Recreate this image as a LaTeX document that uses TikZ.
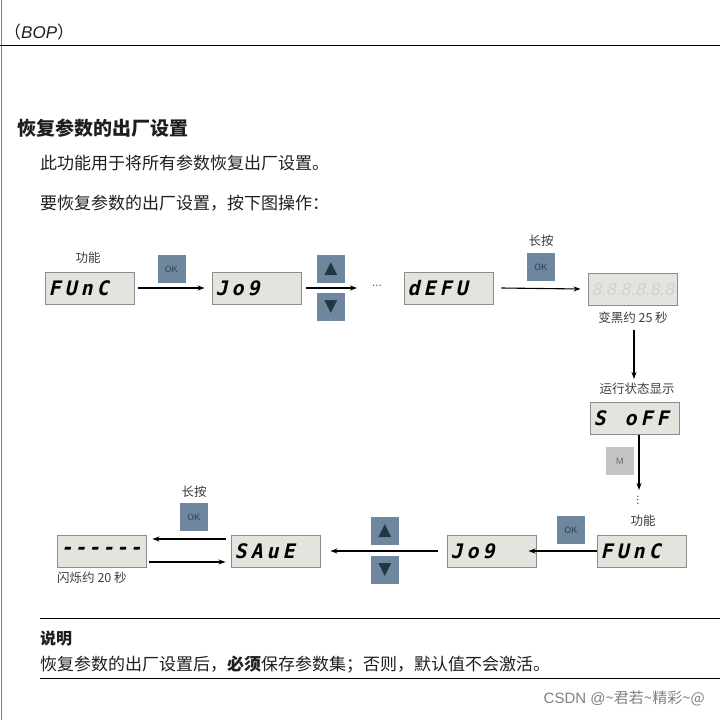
\documentclass[tikz,border=0pt]{standalone}
\usepackage{fontspec}
\setmainfont{Liberation Sans}
\newfontfamily\cjk{Noto Sans CJK SC}
\newfontfamily\seg[FakeSlant=0.22]{DejaVu Sans Mono Bold}
\newfontfamily\segb[FakeSlant=0.22]{Liberation Sans}
\newfontfamily\sym{DejaVu Sans}
\usetikzlibrary{arrows.meta}
\definecolor{dispfill}{HTML}{E4E4DE}
\definecolor{dispborder}{HTML}{8C8C8C}
\definecolor{btnblue}{HTML}{6E879F}
\definecolor{btntext}{HTML}{2C3A48}
\definecolor{tri}{HTML}{1E3A40}
\definecolor{mgray}{HTML}{C4C4C4}
\definecolor{bodytxt}{HTML}{1E1E1E}
\definecolor{labtxt}{HTML}{3C3C3C}
\tikzset{
  disp/.style={draw=dispborder, fill=dispfill, line width=0.9pt, text width=82pt, align=left,
     inner xsep=3.5pt, inner ysep=0pt, minimum height=32pt, text=black,
     font=\seg\fontsize{20}{20}\selectfont\addfontfeature{LetterSpace=20}},
  okbtn/.style={fill=btnblue, minimum size=28pt, inner sep=0pt, text=btntext,
     font=\sffamily\fontsize{9}{9}\selectfont},
  arrbtn/.style={fill=btnblue, minimum size=28pt, inner sep=0pt, text=tri,
     font=\sym\fontsize{17}{17}\selectfont},
  mbtn/.style={fill=mgray, minimum size=28pt, inner sep=0pt, text=labtxt!80,
     font=\sffamily\fontsize{9}{9}\selectfont},
  lab/.style={text=labtxt, inner sep=0pt, font=\cjk\fontsize{12.5}{13}\selectfont},
  arr/.style={-{Stealth[length=7pt,width=5pt]}, line width=1.1pt},
  body/.style={text=bodytxt, inner sep=0pt, anchor=west, font=\cjk\fontsize{17}{18}\selectfont},
}
\begin{document}
\begin{tikzpicture}[x=1pt,y=-1pt]
\useasboundingbox (0,0) rectangle (720,720);
% page frame
\draw[gray, line width=1pt] (1,0) -- (1,720);
\draw[line width=0.9pt] (0,45) -- (720,45);
\node[anchor=west, inner sep=0pt, text=bodytxt, font=\cjk\fontsize{17}{17}\selectfont] (hdr) at (4,32) {（{\fontspec{Liberation Sans}\itshape BOP}）};
% title and text
\node[body, font=\cjk\bfseries\fontsize{19}{20}\selectfont] (title) at (17,128) {恢复参数的出厂设置};
\node[body] (t1) at (40,163) {此功能用于将所有参数恢复出厂设置。};
\node[body] (t2) at (40,203) {要恢复参数的出厂设置，按下图操作：};

% row 1
\node[lab] (lf1) at (88,258) {功能};
\node[disp] (f1) at (89.5,288) {FUnC};
\node[okbtn] (ok1) at (171.5,269) {OK};
\node[disp] (j1) at (256.5,288) {Jo9};
\node[arrbtn] (up1) at (331,269) {▲};
\node[arrbtn] (dn1) at (331,307) {▼};
\node[inner sep=0pt, font=\fontsize{10}{10}\selectfont] (dots) at (377,287) {···};
\node[disp] (d1) at (448.5,288) {dEFU};
\node[lab] (lp1) at (541,241) {长按};
\node[okbtn] (ok2) at (541,267) {OK};
\node[disp, text=dispborder!40, font=\segb\fontsize{17.5}{18}\selectfont] (e1) at (632.5,289) {\mbox{8.8.8.8.8.8}};
\node[lab] (l25) at (633,318) {变黑约 25 秒};
\draw[arr] ([xshift=4pt]f1.east) -- ([xshift=-7pt]j1.west);
\draw[arr] ([xshift=5pt]j1.east) -- (357,288);
\draw[arr] ([xshift=8pt]d1.east) -- ([xshift=-7pt]e1.west);

% right column
\node[lab] (lrun) at (637,389) {运行状态显示};
\node[disp] (s1) at (634.5,418) {\mbox{S\hspace{19pt}oFF}};
\draw[arr] (634,330) -- (634,379);
\node[mbtn] (m1) at (620,461) {M};
\node[inner sep=0pt, font=\fontsize{10}{10}\selectfont] (vdots) at (639,500) {\rotatebox{90}{···}};
\draw[arr] (639,435) -- (639,490);
\node[lab] (lf2) at (643,521) {功能};

% row 2
\node[disp] (f2) at (641.5,551) {FUnC};
\node[okbtn] (ok3) at (571,530) {OK};
\node[disp] (j2) at (491.5,551) {Jo9};
\node[arrbtn] (up2) at (385,531) {▲};
\node[arrbtn] (dn2) at (385,570) {▼};
\node[disp] (s2) at (275.5,551) {SAuE};
\node[lab] (lp2) at (194,492) {长按};
\node[okbtn] (ok4) at (194,517) {OK};
\node[disp, font=\seg\fontsize{20}{20}\selectfont\addfontfeature{LetterSpace=9}] (dash) at (101.5,551) {\mbox{------}};
\node[lab, anchor=west] (l20) at (57,578) {闪烁约 20 秒};
\draw[arr] (f2.west) -- ([xshift=-8pt]j2.east);
\draw[arr] ([xshift=-9pt]j2.west) -- ([xshift=10pt]s2.east);
\draw[arr] ([xshift=-5pt,yshift=12pt]s2.west) -- ([xshift=6pt,yshift=12pt]dash.east);
\draw[arr] ([xshift=3pt,yshift=-11pt]dash.east) -- ([xshift=-5pt,yshift=-11pt]s2.west);

% note
\draw[line width=0.9pt] (40,618) -- (720,618);
\node[body, font=\cjk\bfseries\fontsize{16}{17}\selectfont] (note) at (40,638) {说明};
\node[body] (t3) at (40,665) {恢复参数的出厂设置后，{\bfseries 必须}保存参数集；否则，默认值不会激活。};
\draw[line width=0.9pt] (40,678) -- (720,678);
\node[anchor=east, inner sep=0pt, text=gray, font=\cjk\fontsize{15}{15}\selectfont] (wm) at (705,698) {{\fontspec{Liberation Sans}CSDN @}\textasciitilde 君若\textasciitilde 精彩\textasciitilde @};
\end{tikzpicture}
\end{document}
